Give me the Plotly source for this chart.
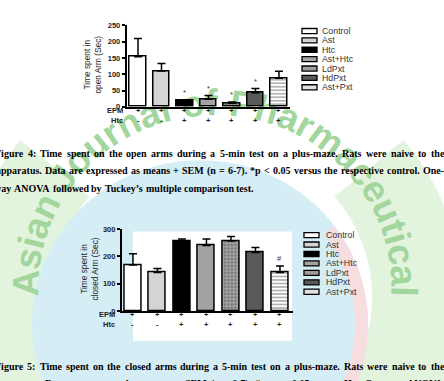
import numpy as np
import plotly.graph_objects as go

# ---------------- data ----------------
groups = ["Control", "Ast", "Htc", "Ast+Htc", "LdPxt", "HdPxt", "Ast+Pxt"]
open_mean = [154, 110, 18, 23, 11, 43, 88]
open_sem = [56, 23, 3, 12, 4, 13, 21]
closed_mean = [169, 141, 257, 240, 257, 215, 141]
closed_sem = [41, 15, 7, 24, 16, 18, 24]
epm_row = ["+", "+", "+", "+", "+", "+", "+"]
htc_row = ["-", "-", "+", "+", "+", "+", "+"]
open_marks = ["", "", "*", "*", "*", "*", ""]
closed_marks = ["", "", "", "", "", "", "#"]
open_ticks = [0, 50, 100, 150, 200, 250]
closed_ticks = [0, 100, 200, 300]

cap4 = ["Figure 4: Time spent on the open arms during a 5-min test on a plus-maze. Rats were naive to the",
        "apparatus. Data are expressed as means + SEM (n = 6-7). *p < 0.05 versus the respective control. One-",
        "way ANOVA followed by Tuckey\u2019s multiple comparison test."]
cap5 = ["Figure 5: Time spent on the closed arms during a 5-min test on a plus-maze. Rats were naive to the",
        "apparatus. Data are expressed as means + SEM (n = 6-7). # = p < 0.05 versus Htc. One-way ANOVA"]
watermark = "Asian Journal of Pharmaceutical"

# ---------------- styles ----------------
W, H = 444, 381
fills = ["white", "#d4d4d4", "black", "#a2a2a2", "#a6a6a6", "#595959", "white"]
pat_shape = ["", "", "", "", ".", "", "-"]
pat_fg = ["black", "black", "black", "black", "#5e5e5e", "black", "#999999"]
leg_fill = ["white", "#d4d4d4", "black", "#a2a2a2", "#9c9c9c", "#595959", "#e0e0e0"]


def px(x):
    return x / W


def py(y):
    return 1 - y / H


fig = go.Figure()
shapes = []
annotations = []


def ann(**kw):
    kw.setdefault("showarrow", False)
    kw.setdefault("xanchor", "center")
    kw.setdefault("yanchor", "middle")
    annotations.append(kw)


# ---------------- watermark (decoration) ----------------
def poly_path(pts):
    return "M " + " L ".join(f"{px(x):.5f},{py(y):.5f}" for x, y in pts) + " Z"


def ring_pts(cx, cy, r, a0, a1, n=100):
    t = np.radians(np.linspace(a0, a1, n))
    return list(zip(cx + r * np.cos(t), cy - r * np.sin(t)))


# green ring, side sectors
for a0, a1 in ((-90, 40), (140, 270)):
    pts = ring_pts(212, 300, 250, a0, a1) + ring_pts(212, 300, 160, a1, a0)
    shapes.append(dict(type="path", xref="paper", yref="paper", layer="below",
                       path=poly_path(pts), fillcolor="#e2f3de", line=dict(width=0)))
# blue disc
shapes.append(dict(type="path", xref="paper", yref="paper", layer="below",
                   path=poly_path(ring_pts(200, 328, 168, 0, 360)), fillcolor="#d5edf5",
                   line=dict(width=0)))
# pink band
pk = ring_pts(202, 328, 166, 37, -40) + ring_pts(202, 328, 153, -40, 37)
shapes.append(dict(type="path", xref="paper", yref="paper", layer="below",
                   path=poly_path(pk), fillcolor="#f7dce0", line=dict(width=0)))
# white inner area behind second chart
shapes.append(dict(type="rect", xref="paper", yref="paper", layer="below",
                   x0=px(133), x1=px(292), y0=py(345), y1=py(233),
                   fillcolor="white", line=dict(width=0)))

# watermark letters along arc
AB = {"A": .722, "s": .556, "i": .278, "a": .556, "n": .611, " ": .278, "J": .556, "o": .611,
      "u": .611, "r": .389, "l": .278, "f": .333, "P": .667, "h": .611, "m": .889, "c": .556,
      "e": .556, "t": .333}
wts = [AB.get(c, .6) for c in watermark]
tot = sum(wts)
cum = 0
for ch, wt in zip(watermark, wts):
    pos = cum + wt / 2
    cum += wt
    if ch == " ":
        continue
    th = 183 - 186 * pos / tot
    cx = 215 + 193 * np.cos(np.radians(th))
    cy = 290 - 193 * np.sin(np.radians(th))
    shapes.append(dict(type="rect", xref="paper", yref="paper", layer="below",
                       x0=px(cx - 2), x1=px(cx + 2), y0=py(cy + 2), y1=py(cy - 2),
                       line=dict(width=0), fillcolor="rgba(0,0,0,0)",
                       label=dict(text=ch, textangle=90 - th, textposition="middle center",
                                  font=dict(family="Liberation Sans", size=37, weight="bold",
                                            color="#a2d69c"))))

# ---------------- charts ----------------
charts = [
    dict(mean=open_mean, sem=open_sem, marks=open_marks, ticks=open_ticks, ymax=250,
         xdom=(126.5, 290), ytop=22, ybot=105.3, xr=(-0.49, 6.47), bw=0.72,
         title="Time spent in<br>open Arm (Sec)", tpos=(93, 62),
         rows=(109.5, 119), rlab_x=125, leg=(302, 317, 320, 27.7, 9.6)),
    dict(mean=closed_mean, sem=closed_sem, marks=closed_marks, ticks=closed_ticks, ymax=300,
         xdom=(121.7, 292.7), ytop=230.7, ybot=314.3, xr=(-0.46, 6.52), bw=0.70,
         title="Time spent in<br>closed Arm (Sec)", tpos=(90, 272),
         rows=(318.5, 328), rlab_x=117, leg=(304, 319, 324, 236.7, 9.67)),
]

for k, c in enumerate(charts):
    sfx = "" if k == 0 else str(k + 1)
    xa, ya = "x" + sfx, "y" + sfx
    fig.add_trace(go.Bar(
        x=list(range(len(groups))), y=c["mean"], width=c["bw"], xaxis=xa, yaxis=ya,
        marker=dict(color=fills, line=dict(color="black", width=1.5),
                    pattern=dict(shape=pat_shape, fgcolor=pat_fg, size=3.5, solidity=0.4)),
        error_y=dict(type="data", array=c["sem"], arrayminus=[0] * len(groups), symmetric=False,
                     color="black", thickness=1.5, width=4),
        showlegend=False, hoverinfo="skip"))
    axkw = dict(domain=[px(c["xdom"][0]), px(c["xdom"][1])], range=list(c["xr"]),
                showline=True, linecolor="black", linewidth=1.5, showticklabels=False,
                ticks="", showgrid=False, zeroline=False, fixedrange=True)
    aykw = dict(domain=[py(c["ybot"]), py(c["ytop"])], range=[0, c["ymax"]],
                tickvals=c["ticks"], ticks="outside", ticklen=3, tickwidth=1.5, tickcolor="black",
                showline=True, linecolor="black", linewidth=1.5, showgrid=False, zeroline=False,
                tickfont=dict(family="Liberation Sans", size=7.5, color="#222", weight="bold"),
                fixedrange=True)
    if k == 0:
        fig.update_layout(xaxis=axkw, yaxis=dict(anchor="x", **aykw))
    else:
        fig.update_layout(**{"xaxis" + sfx: dict(anchor=ya, **axkw),
                             "yaxis" + sfx: dict(anchor=xa, **aykw)})

    # y title
    ann(text=c["title"], x=px(c["tpos"][0]), y=py(c["tpos"][1]), xref="paper", yref="paper",
        textangle=-90, font=dict(family="Liberation Sans", size=8.3, color="#222"))
    # row labels and signs
    for lab, ry, signs in (("EPM", c["rows"][0], epm_row), ("Htc", c["rows"][1], htc_row)):
        ann(text=lab, x=px(c["rlab_x"]), y=py(ry), xref="paper", yref="paper", xanchor="right",
            font=dict(family="Liberation Sans", size=7.5, color="#222", weight="bold"))
        for i, s in enumerate(signs):
            ann(text=s, x=i, y=py(ry), xref=xa, yref="paper",
                font=dict(family="Liberation Sans", size=7.5, color="#222", weight="bold"))
    # significance marks
    for i, m in enumerate(c["marks"]):
        if m:
            ann(text=m, x=i, y=c["mean"][i] + c["sem"][i], xref=xa, yref=ya, yshift=7,
                font=dict(family="Liberation Sans", size=7.5, color="#333"))
    # legend
    sx0, sx1, tx, ly0, lstep = c["leg"]
    for j, g in enumerate(groups):
        yy = ly0 + j * lstep
        shapes.append(dict(type="rect", xref="paper", yref="paper",
                           x0=px(sx0), x1=px(sx1), y0=py(yy + 2.6), y1=py(yy - 2.6),
                           fillcolor=leg_fill[j], line=dict(color="black", width=1.3)))
        ann(text=g, x=px(tx), y=py(yy), xref="paper", yref="paper", xanchor="left",
            font=dict(family="Liberation Sans", size=8.8, color="#333"))

# ---------------- captions ----------------
TB = {" ": 250, "!": 333, "#": 500, "'": 278, "\u2019": 333, "(": 333, ")": 333, "*": 500,
      "+": 570, ",": 250, "-": 333, ".": 250, "/": 278, ":": 333, "<": 570, "=": 570, ">": 570,
      "A": 722, "B": 667, "C": 722, "D": 722, "E": 667, "F": 611, "G": 778, "H": 778, "I": 389,
      "J": 500, "K": 778, "L": 667, "M": 944, "N": 722, "O": 778, "P": 611, "Q": 778, "R": 722,
      "S": 556, "T": 667, "U": 722, "V": 722, "W": 1000, "X": 722, "Y": 722, "Z": 667,
      "a": 500, "b": 556, "c": 444, "d": 556, "e": 444, "f": 333, "g": 500, "h": 556, "i": 278,
      "j": 333, "k": 556, "l": 278, "m": 833, "n": 556, "o": 500, "p": 556, "q": 556, "r": 444,
      "s": 389, "t": 333, "u": 556, "v": 500, "w": 722, "x": 500, "y": 500, "z": 444}
for d in "0123456789":
    TB[d] = 500
CAP_SIZE = 10


def tw(s):
    return sum(TB.get(ch, 500) for ch in s) * CAP_SIZE / 1000


def esc(s):
    return s.replace("&", "&amp;").replace("<", "&lt;").replace(">", "&gt;")


def caption_line(text, x0, x1, y, justify=True):
    words = text.split(" ")
    widths = [tw(w) for w in words]
    gap = (x1 - x0 - sum(widths)) / (len(words) - 1) if justify else tw(" ")
    x = x0
    for w, wd in zip(words, widths):
        ann(text=esc(w), x=px(x), y=py(y), xref="paper", yref="paper", xanchor="left",
            borderpad=0,
            font=dict(family="Liberation Serif", size=CAP_SIZE, color="black", weight="bold"))
        x += wd + gap


caption_line(cap4[0], -6, 443, 153.5)
caption_line(cap4[1], -5, 443, 171)
caption_line(cap4[2], -7, 443, 188.5, justify=False)
caption_line(cap5[0], -6, 443, 371.5)
caption_line(cap5[1], -5, 443, 389)

fig.update_layout(width=W, height=H, margin=dict(l=0, r=0, t=0, b=0),
                  paper_bgcolor="white", plot_bgcolor="rgba(0,0,0,0)",
                  shapes=shapes, annotations=annotations, showlegend=False, bargap=0)

fig.write_html("out.html", config={"displayModeBar": False})
